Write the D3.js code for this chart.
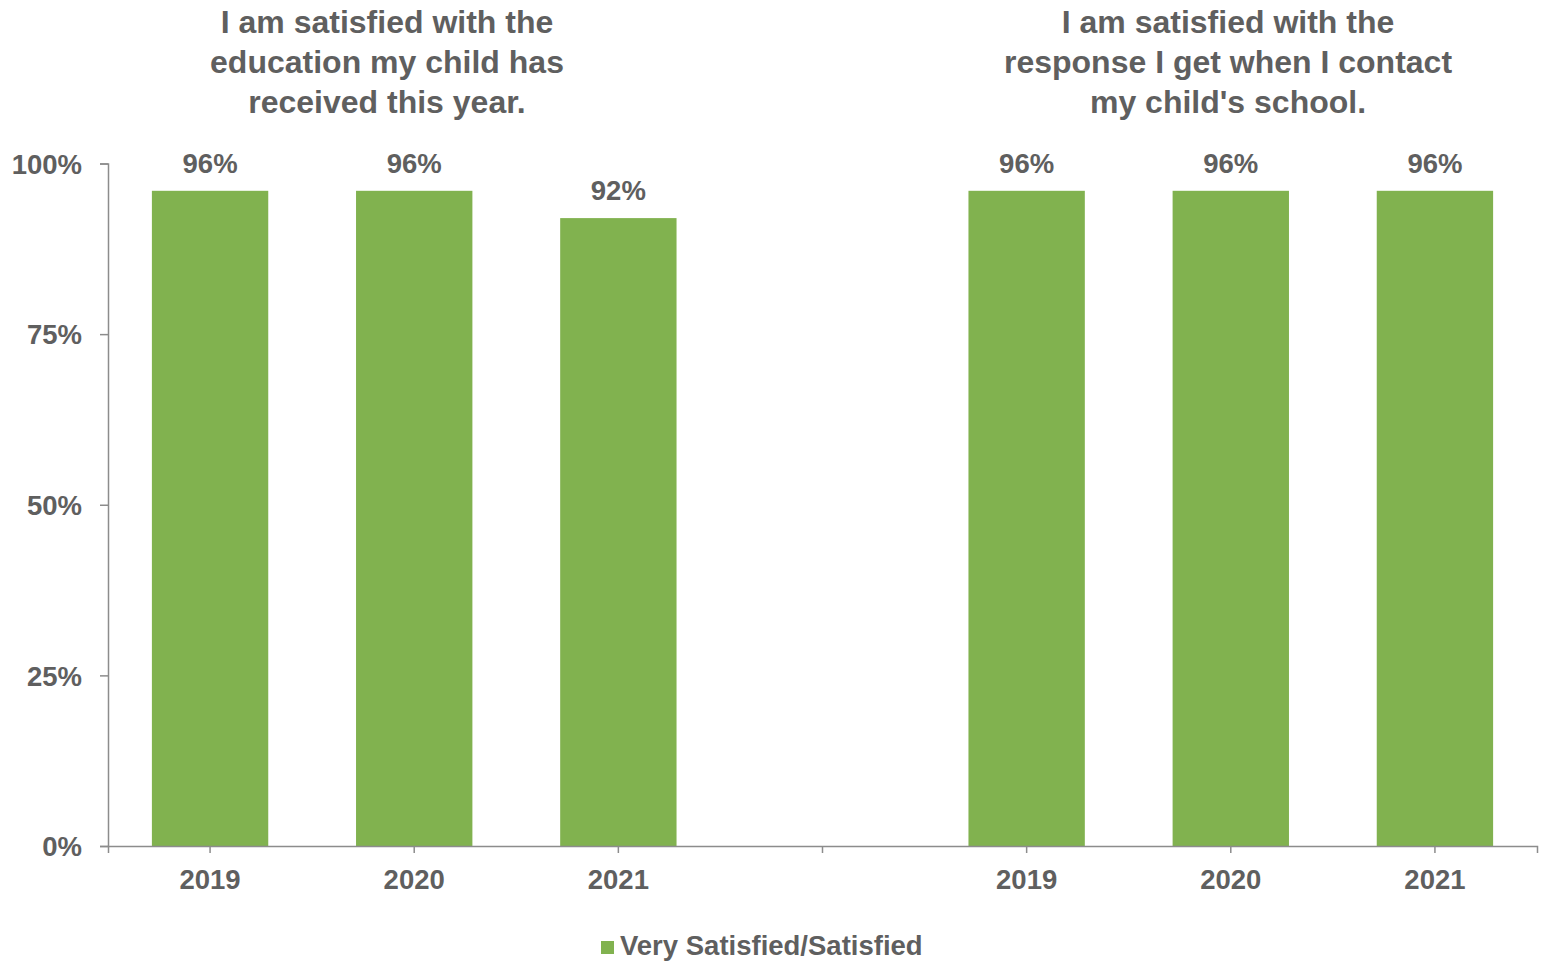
<!DOCTYPE html>
<html>
<head>
<meta charset="utf-8">
<script src="https://cdn.jsdelivr.net/npm/d3@7"></script>
<style>
  html, body { margin: 0; padding: 0; background: #ffffff; }
  svg { display: block; }
  text { font-family: "Liberation Sans", Arial, sans-serif; font-weight: bold; fill: #5f5f5f; }
</style>
</head>
<body>
<svg id="chart" width="1542" height="962"></svg>
<script>
// ---- Data ----
const groupTitles = [
  ["I am satisfied with the", "education my child has", "received this year."],
  ["I am satisfied with the", "response I get when I contact", "my child's school."]
];
const years = ["2019", "2020", "2021"];
const educationValues = [0.96, 0.96, 0.92];
const responseValues = [0.96, 0.96, 0.96];
const yTicks = [0, 0.25, 0.5, 0.75, 1];
const seriesName = "Very Satisfied/Satisfied";

// ---- Build slots (two groups separated by an empty slot) ----
const slots = [];
years.forEach((y, i) => slots.push({ key: "A" + y, label: y, value: educationValues[i] }));
slots.push({ key: "gap", label: "", value: null });
years.forEach((y, i) => slots.push({ key: "B" + y, label: y, value: responseValues[i] }));

const svg = d3.select("#chart");
const barColor = "#81b24f";
const axisColor = "#8c8c8c";
const labelSize = 27.5;

const x = d3.scaleBand()
  .domain(slots.map(d => d.key))
  .range([108, 1537])
  .paddingInner(0.43)
  .paddingOuter(0.215);

const y = d3.scaleLinear().domain([0, 1]).range([846, 163.5]);

// Bars
svg.append("g").selectAll("rect")
  .data(slots.filter(d => d.value !== null))
  .join("rect")
  .attr("x", d => x(d.key))
  .attr("y", d => y(d.value))
  .attr("width", x.bandwidth())
  .attr("height", d => y(0) - y(d.value))
  .attr("fill", barColor);

// Data labels
svg.append("g").selectAll("text")
  .data(slots.filter(d => d.value !== null))
  .join("text")
  .attr("x", d => x(d.key) + x.bandwidth() / 2)
  .attr("y", d => y(d.value) - 18)
  .attr("text-anchor", "middle")
  .attr("font-size", labelSize)
  .text(d => d3.format(".0%")(d.value));

// Y axis
const yAxis = svg.append("g").attr("transform", "translate(108,0)")
  .call(d3.axisLeft(y).tickValues(yTicks).tickFormat(d3.format(".0%")).tickSize(8).tickPadding(18));
yAxis.select(".domain").attr("stroke", axisColor).attr("stroke-width", 1.5);
yAxis.selectAll(".tick line").attr("stroke", axisColor).attr("stroke-width", 1.5);
yAxis.selectAll(".tick text")
  .attr("font-size", labelSize)
  .attr("font-family", "Liberation Sans, Arial, sans-serif")
  .attr("font-weight", "bold")
  .attr("fill", "#5f5f5f")
  .attr("dy", "0.35em");

// X axis
const xAxis = svg.append("g").attr("transform", "translate(0,846)")
  .call(d3.axisBottom(x).tickFormat(k => slots.find(s => s.key === k).label).tickSizeInner(7).tickSizeOuter(7).tickPadding(16));
xAxis.select(".domain").attr("stroke", axisColor).attr("stroke-width", 1.5);
xAxis.selectAll(".tick line").attr("stroke", axisColor).attr("stroke-width", 1.5);
xAxis.selectAll(".tick text")
  .attr("font-size", labelSize)
  .attr("font-family", "Liberation Sans, Arial, sans-serif")
  .attr("font-weight", "bold")
  .attr("fill", "#5f5f5f");

// Titles
const titleCenters = [387, 1228];
const titleBaselines = [33, 73, 113];
groupTitles.forEach((lines, gi) => {
  const t = svg.append("text")
    .attr("text-anchor", "middle")
    .attr("font-size", 32);
  lines.forEach((ln, li) => {
    t.append("tspan")
      .attr("x", titleCenters[gi])
      .attr("y", titleBaselines[li])
      .text(ln);
  });
});

// Legend
const lg = svg.append("g").attr("transform", "translate(601,941)");
lg.append("rect").attr("width", 13).attr("height", 13).attr("fill", barColor);
lg.append("text").attr("x", 19).attr("y", 14).attr("font-size", 27.5).text(seriesName);
</script>
</body>
</html>
